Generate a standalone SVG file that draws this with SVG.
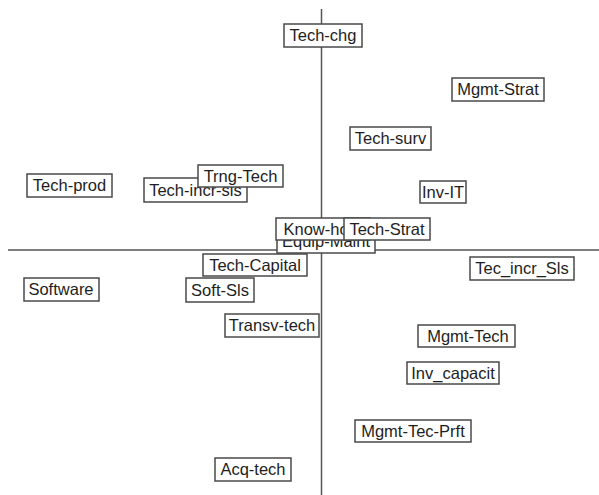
<svg xmlns="http://www.w3.org/2000/svg" width="599" height="495" viewBox="0 0 599 495">
<style>
.bg{fill:#ffffff}
.ax{stroke:#555555;stroke-width:1.5;fill:none}
.box{fill:#ffffff;stroke:#4a4a4a;stroke-width:1.5}
.lbl{font-family:"Liberation Sans",Arial,sans-serif;font-size:16.5px;fill:#1e1e1e;text-anchor:middle}
</style>
<rect class="bg" x="0" y="0" width="599" height="495"/>
<g id="connectors">
<line class="ax" x1="321.5" y1="9" x2="321.5" y2="495"/>
<line class="ax" x1="8" y1="250" x2="599" y2="250"/>
</g>
<g id="tech-chg"><rect class="box" x="284" y="24" width="78" height="23"/><text class="lbl" x="323" y="41">Tech-chg</text></g>
<g id="mgmt-strat"><rect class="box" x="452" y="78" width="92" height="23"/><text class="lbl" x="498" y="95">Mgmt-Strat</text></g>
<g id="tech-surv"><rect class="box" x="350" y="127" width="81" height="23"/><text class="lbl" x="390.5" y="144">Tech-surv</text></g>
<g id="inv-it"><rect class="box" x="420" y="181" width="46" height="22"/><text class="lbl" x="443" y="197.5">Inv-IT</text></g>
<g id="tech-prod"><rect class="box" x="27" y="174" width="85" height="23"/><text class="lbl" x="69.5" y="191">Tech-prod</text></g>
<g id="tech-incr-sls"><rect class="box" x="144" y="178" width="103" height="24"/><text class="lbl" x="195.5" y="196">Tech-incr-sls</text></g>
<g id="trng-tech"><rect class="box" x="198" y="165" width="85" height="22"/><text class="lbl" x="240.5" y="181.5">Trng-Tech</text></g>
<g id="equip-maint"><rect class="box" x="277" y="230" width="98" height="23"/><text class="lbl" x="326" y="247">Equip-Maint</text></g>
<g id="know-how"><rect class="box" x="276" y="218" width="94" height="22"/><text class="lbl" x="322" y="234.5">Know-how</text></g>
<g id="tech-strat"><rect class="box" x="344" y="218" width="86" height="22"/><text class="lbl" x="387" y="234.5">Tech-Strat</text></g>
<g id="tech-capital"><rect class="box" x="203" y="254" width="104" height="22"/><text class="lbl" x="255" y="270.5">Tech-Capital</text></g>
<g id="software"><rect class="box" x="24" y="278" width="75" height="23"/><text class="lbl" x="61" y="295">Software</text></g>
<g id="soft-sls"><rect class="box" x="186" y="278" width="68" height="24"/><text class="lbl" x="220" y="296">Soft-Sls</text></g>
<g id="transv-tech"><rect class="box" x="225" y="314" width="94" height="23"/><text class="lbl" x="272" y="331">Transv-tech</text></g>
<g id="acq-tech"><rect class="box" x="215" y="458" width="76" height="23"/><text class="lbl" x="253" y="475">Acq-tech</text></g>
<g id="tec-incr-sls"><rect class="box" x="470" y="257" width="104" height="23"/><text class="lbl" x="522" y="274">Tec_incr_Sls</text></g>
<g id="mgmt-tech"><rect class="box" x="418" y="325" width="97" height="22"/><text class="lbl" x="468" y="341.5">Mgmt-Tech</text></g>
<g id="inv-capacit"><rect class="box" x="407" y="362" width="92" height="22"/><text class="lbl" x="453" y="378.5">Inv_capacit</text></g>
<g id="mgmt-tec-prft"><rect class="box" x="355" y="420" width="116" height="22"/><text class="lbl" x="413" y="436.5">Mgmt-Tec-Prft</text></g>
</svg>
